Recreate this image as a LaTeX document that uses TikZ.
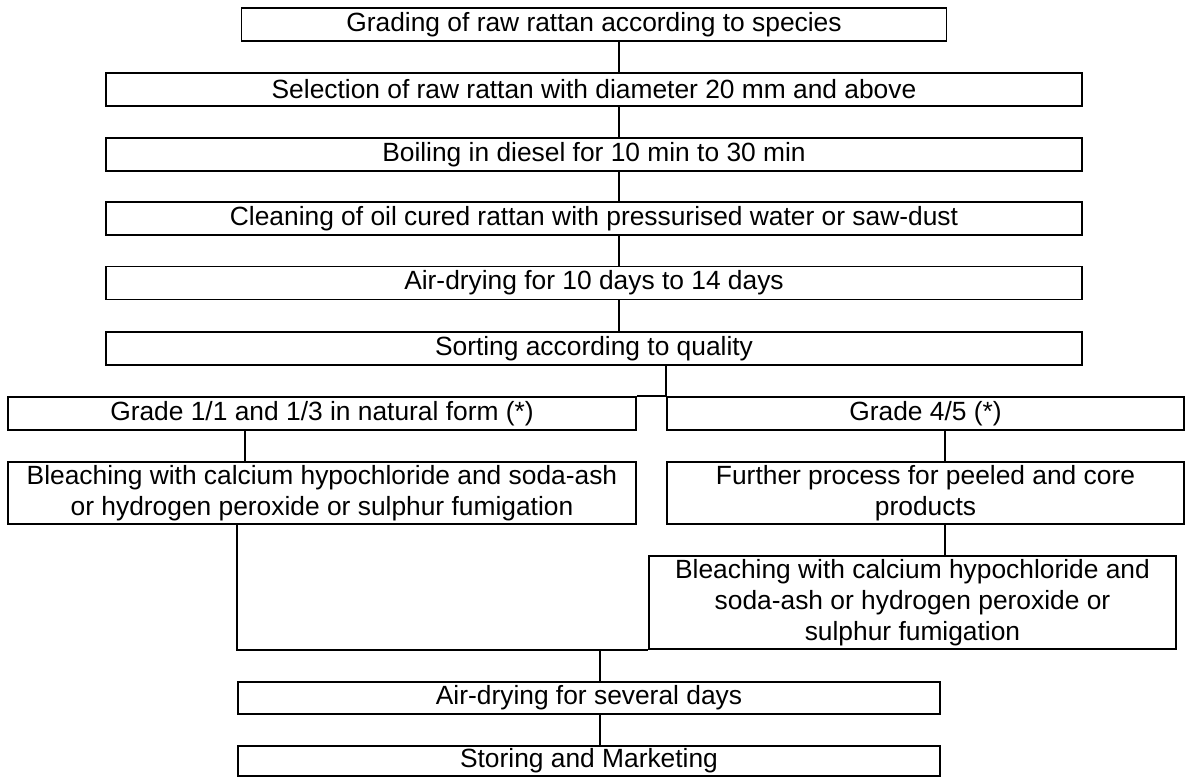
\documentclass[tikz,border=0pt]{standalone}
\usepackage{fontspec}
\setmainfont{Liberation Sans}
\begin{document}
\begin{tikzpicture}[
		bx/.style = {rectangle, draw=black, fill=white, line width=1pt, inner sep=0pt, align=center, font=\fontsize{15pt}{17.6pt}\selectfont},
		ln/.style = {line width=1pt}
		]
		\useasboundingbox (0, 0) rectangle (23.78, -15.54);
		
		\node[bx, minimum width=14.10cm, minimum height=0.66cm]	(gr)	at	(11.88, -0.49)	{Grading of raw rattan according to species};
		\node[bx, minimum width=19.52cm, minimum height=0.66cm]	(sel)	at	(11.88, -1.79)	{Selection of raw rattan with diameter 20 mm and above};
		\node[bx, minimum width=19.52cm, minimum height=0.66cm]	(boil)	at	(11.88, -3.09)	{Boiling in diesel for 10 min to 30 min};
		\node[bx, minimum width=19.52cm, minimum height=0.66cm]	(cln)	at	(11.88, -4.37)	{Cleaning of oil cured rattan with pressurised water or saw-dust};
		\node[bx, minimum width=19.52cm, minimum height=0.66cm]	(ad1)	at	(11.88, -5.66)	{Air-drying for 10 days to 14 days};
		\node[bx, minimum width=19.52cm, minimum height=0.66cm]	(so)	at	(11.88, -6.97)	{Sorting according to quality};
		\draw[ln]	([xshift=0.5cm]gr.south)	to	([xshift=0.5cm]sel.north);
		\draw[ln]	([xshift=0.5cm]sel.south)	to	([xshift=0.5cm]boil.north);
		\draw[ln]	([xshift=0.5cm]boil.south)	to	([xshift=0.5cm]cln.north);
		\draw[ln]	([xshift=0.5cm]cln.south)	to	([xshift=0.5cm]ad1.north);
		\draw[ln]	([xshift=0.5cm]ad1.south)	to	([xshift=0.5cm]so.north);
		
		\node[bx, minimum width=12.56cm, minimum height=0.66cm]	(g11)	at	(6.44, -8.27)	{Grade 1/1 and 1/3 in natural form (*)};
		\node[bx, minimum width=10.34cm, minimum height=0.66cm]	(g45)	at	(18.51, -8.27)	{Grade 4/5 (*)};
		\draw[ln]	(so.south -| g45.north west)	--	(g45.north west)	--	(g11.north east);
		
		\node[bx, minimum width=12.56cm, minimum height=1.24cm]	(bl1)	at	(6.44, -9.86)	{Bleaching with calcium hypochloride and soda-ash\\or hydrogen peroxide or sulphur fumigation};
		\node[bx, minimum width=10.34cm, minimum height=1.24cm]	(fp)	at	(18.51, -9.86)	{Further process for peeled and core\\products};
		\draw[ln]	([xshift=-1.54cm]g11.south)	to	([xshift=-1.54cm]bl1.north);
		\draw[ln]	([xshift=0.39cm]g45.south)	to	([xshift=0.39cm]fp.north);
		
		\node[bx, minimum width=10.54cm, minimum height=1.86cm]	(bl2)	at	(18.25, -12.05)	{Bleaching with calcium hypochloride and\\soda-ash or hydrogen peroxide or\\sulphur fumigation};
		\draw[ln]	([xshift=0.39cm]fp.south)	to	([xshift=0.39cm]fp.south |- bl2.north);
		
		\node[bx, minimum width=14.04cm, minimum height=0.64cm]	(ad2)	at	(11.78, -13.96)	{Air-drying for several days};
		\node[bx, minimum width=14.04cm, minimum height=0.60cm]	(st)	at	(11.78, -15.22)	{Storing and Marketing};
		\draw[ln]	(bl1.south -| ad2.west)	|-	(bl2.south west);
		\draw[ln]	([xshift=0.22cm]ad2.north |- bl2.south)	to	([xshift=0.22cm]ad2.north);
		\draw[ln]	([xshift=0.22cm]ad2.south)	to	([xshift=0.22cm]st.north);
\end{tikzpicture}
\end{document}
